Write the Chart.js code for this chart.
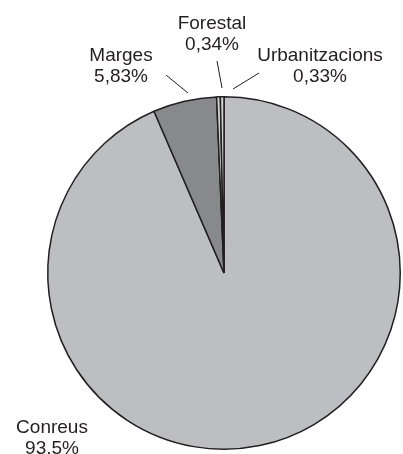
<!DOCTYPE html>
<html>
<head>
<meta charset="utf-8">
<script src="https://cdn.jsdelivr.net/npm/chart.js@4/dist/chart.umd.min.js"></script>
<style>
html,body{margin:0;padding:0;background:#fff;}
canvas{display:block;}
</style>
</head>
<body>
<canvas id="c" width="403" height="454"></canvas>
<script>
const categories = ["Conreus", "Marges", "Forestal", "Urbanitzacions"];
const values = [93.5, 5.83, 0.34, 0.33];
const valueLabels = ["93,5%", "5,83%", "0,34%", "0,33%"];
const colors = ["#bdbec1", "#88898c", "#cfd0d2", "#cfd0d2"];

// label layout (text centre x, first-line baseline y, optional leader line)
const labelLayout = [
  {x: 52, y: 433, line: null},
  {x: 121, y: 61, line: [166, 75, 188, 93]},
  {x: 212, y: 29, line: [217, 61, 222, 88]},
  {x: 320, y: 61, line: [259, 73, 233, 89]}
];

const labelPlugin = {
  id: 'pieLabels',
  afterDraw(chart) {
    const ctx = chart.ctx;
    ctx.save();
    ctx.fillStyle = '#231f20';
    ctx.strokeStyle = '#231f20';
    ctx.lineWidth = 1;
    ctx.font = '19px "Liberation Sans", Arial, sans-serif';
    ctx.textAlign = 'center';
    ctx.textBaseline = 'alphabetic';
    chart.data.labels.forEach((lab, i) => {
      const L = labelLayout[i];
      ctx.fillText(lab, L.x, L.y);
      ctx.fillText(valueLabels[i], L.x, L.y + 21);
      if (L.line) {
        ctx.beginPath();
        ctx.moveTo(L.line[0], L.line[1]);
        ctx.lineTo(L.line[2], L.line[3]);
        ctx.stroke();
      }
    });
    ctx.restore();
  }
};

new Chart(document.getElementById('c'), {
  type: 'pie',
  data: {
    labels: categories,
    datasets: [{
      data: values,
      backgroundColor: colors,
      borderColor: '#231f20',
      borderWidth: 1.5
    }]
  },
  options: {
    responsive: false,
    animation: false,
    layout: {padding: {left: 47, top: 96, right: 2, bottom: 4}},
    plugins: {
      legend: {display: false},
      tooltip: {enabled: false}
    }
  },
  plugins: [labelPlugin]
});
</script>
</body>
</html>
